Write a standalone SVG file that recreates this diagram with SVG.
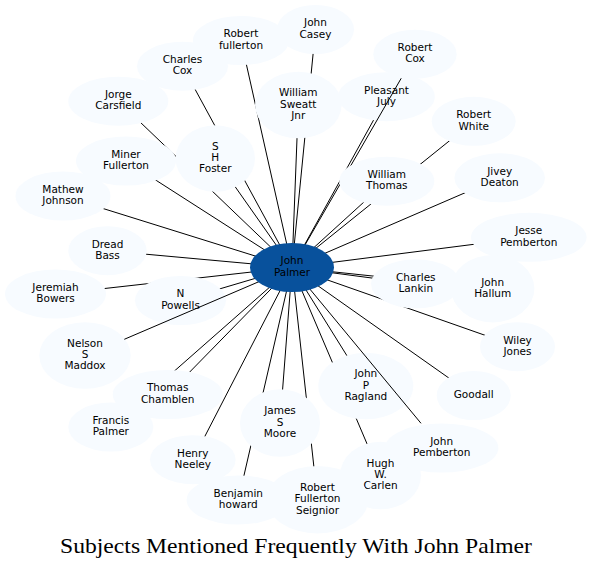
<svg xmlns="http://www.w3.org/2000/svg" width="592" height="569" viewBox="0 0 592 569">
<style>
.node ellipse{fill:#f7fbff;stroke:none}
.center ellipse{fill:#08519c;stroke:none}
.node text,.center text{font-family:"DejaVu Sans",sans-serif;font-size:10.5px;fill:#000;text-anchor:middle}
.edges line{stroke:#000;stroke-width:1}
.title{font-family:"Liberation Serif",serif;font-size:22px;fill:#000;text-anchor:middle}
</style>
<rect width="592" height="569" fill="#fff"/>
<g id="edges" class="edges">
<line x1="292" y1="267.5" x2="315.5" y2="29.5"/>
<line x1="292" y1="267.5" x2="241" y2="40.5"/>
<line x1="292" y1="267.5" x2="182.5" y2="66.2"/>
<line x1="292" y1="267.5" x2="118.3" y2="101.2"/>
<line x1="292" y1="267.5" x2="298.3" y2="105"/>
<line x1="292" y1="267.5" x2="386.5" y2="96.7"/>
<line x1="292" y1="267.5" x2="473.7" y2="121.3"/>
<line x1="292" y1="267.5" x2="126" y2="161"/>
<line x1="292" y1="267.5" x2="215.3" y2="158.5"/>
<line x1="292" y1="267.5" x2="386.8" y2="181.2"/>
<line x1="292" y1="267.5" x2="499.7" y2="177.8"/>
<line x1="292" y1="267.5" x2="63" y2="196"/>
<line x1="292" y1="267.5" x2="528.8" y2="237.3"/>
<line x1="292" y1="267.5" x2="107.5" y2="250.7"/>
<line x1="292" y1="267.5" x2="55.5" y2="294"/>
<line x1="292" y1="267.5" x2="180.5" y2="300.5"/>
<line x1="292" y1="267.5" x2="415.8" y2="283.8"/>
<line x1="292" y1="267.5" x2="492.7" y2="288.7"/>
<line x1="292" y1="267.5" x2="517.5" y2="346.7"/>
<line x1="292" y1="267.5" x2="167.7" y2="394.5"/>
<line x1="292" y1="267.5" x2="110.8" y2="427"/>
<line x1="292" y1="267.5" x2="280" y2="423"/>
<line x1="292" y1="267.5" x2="365.8" y2="386"/>
<line x1="292" y1="267.5" x2="473.7" y2="395.5"/>
<line x1="292" y1="267.5" x2="192.8" y2="459.7"/>
<line x1="292" y1="267.5" x2="238.3" y2="500"/>
<line x1="292" y1="267.5" x2="380.5" y2="475.5"/>
<line x1="292" y1="267.5" x2="317.5" y2="499.7"/>
</g>
<g id="nodes-back">
<g id="john_casey" class="node"><ellipse cx="315.5" cy="29.5" rx="38.5" ry="24.5"/><text x="315.5" y="26.4">John</text><text x="315.5" y="37.7">Casey</text></g>
<g id="robert_fullerton" class="node"><ellipse cx="241" cy="40.5" rx="48" ry="24.5"/><text x="241" y="37.4">Robert</text><text x="241" y="48.7">fullerton</text></g>
<g id="charles_cox" class="node"><ellipse cx="182.5" cy="66.2" rx="45.5" ry="24.5"/><text x="182.5" y="63">Charles</text><text x="182.5" y="74.4">Cox</text></g>
<g id="jorge_carsfield" class="node"><ellipse cx="118.3" cy="101.2" rx="50" ry="24.5"/><text x="118.3" y="98">Jorge</text><text x="118.3" y="109.3">Carsfield</text></g>
<g id="robert_cox" class="node"><ellipse cx="415" cy="54.2" rx="41.7" ry="24.5"/><text x="415" y="51">Robert</text><text x="415" y="62.4">Cox</text></g>
<g id="pleasant_july" class="node"><ellipse cx="386.5" cy="96.7" rx="48.3" ry="24.5"/><text x="386.5" y="93.5">Pleasant</text><text x="386.5" y="104.8">July</text></g>
<g id="william_sweatt_jnr" class="node"><ellipse cx="298.3" cy="105" rx="43.3" ry="33.3"/><text x="298.3" y="96.2">William</text><text x="298.3" y="107.5">Sweatt</text><text x="298.3" y="118.8">Jnr</text></g>
<g id="robert_white" class="node"><ellipse cx="473.7" cy="121.3" rx="42" ry="24.5"/><text x="473.7" y="118.1">Robert</text><text x="473.7" y="129.5">White</text></g>
<g id="miner_fullerton" class="node"><ellipse cx="126" cy="161" rx="50" ry="24.5"/><text x="126" y="157.9">Miner</text><text x="126" y="169.2">Fullerton</text></g>
<g id="s_h_foster" class="node"><ellipse cx="215.3" cy="158.5" rx="39.7" ry="33.2"/><text x="215.3" y="149.7">S</text><text x="215.3" y="161">H</text><text x="215.3" y="172.3">Foster</text></g>
<g id="jivey_deaton" class="node"><ellipse cx="499.7" cy="177.8" rx="45.3" ry="24.5"/><text x="499.7" y="174.6">Jivey</text><text x="499.7" y="186">Deaton</text></g>
<g id="mathew_johnson" class="node"><ellipse cx="63" cy="196" rx="47.5" ry="24.5"/><text x="63" y="192.9">Mathew</text><text x="63" y="204.2">Johnson</text></g>
<g id="jesse_pemberton" class="node"><ellipse cx="528.8" cy="237.3" rx="57.8" ry="24.5"/><text x="528.8" y="234.2">Jesse</text><text x="528.8" y="245.5">Pemberton</text></g>
<g id="dread_bass" class="node"><ellipse cx="107.5" cy="250.7" rx="39.2" ry="24.5"/><text x="107.5" y="247.6">Dread</text><text x="107.5" y="258.9">Bass</text></g>
<g id="jeremiah_bowers" class="node"><ellipse cx="55.5" cy="294" rx="50.5" ry="24.5"/><text x="55.5" y="290.9">Jeremiah</text><text x="55.5" y="302.2">Bowers</text></g>
<g id="n_powells" class="node"><ellipse cx="180.5" cy="300.5" rx="45.5" ry="24.5"/><text x="180.5" y="297.4">N</text><text x="180.5" y="308.7">Powells</text></g>
<g id="charles_lankin" class="node"><ellipse cx="415.8" cy="283.8" rx="44.8" ry="24.5"/><text x="415.8" y="280.7">Charles</text><text x="415.8" y="292">Lankin</text></g>
<g id="john_hallum" class="node"><ellipse cx="492.7" cy="288.7" rx="41.7" ry="33.7"/><text x="492.7" y="285.6">John</text><text x="492.7" y="296.9">Hallum</text></g>
<g id="wiley_jones" class="node"><ellipse cx="517.5" cy="346.7" rx="37.5" ry="24.5"/><text x="517.5" y="343.6">Wiley</text><text x="517.5" y="354.9">Jones</text></g>
<g id="nelson_s_maddox" class="node"><ellipse cx="85" cy="355.5" rx="45.7" ry="33.2"/><text x="85" y="346.7">Nelson</text><text x="85" y="358">S</text><text x="85" y="369.3">Maddox</text></g>
<g id="thomas_chamblen" class="node"><ellipse cx="167.7" cy="394.5" rx="55" ry="24.5"/><text x="167.7" y="391.4">Thomas</text><text x="167.7" y="402.7">Chamblen</text></g>
<g id="francis_palmer" class="node"><ellipse cx="110.8" cy="427" rx="42.5" ry="24.5"/><text x="110.8" y="423.9">Francis</text><text x="110.8" y="435.2">Palmer</text></g>
<g id="james_s_moore" class="node"><ellipse cx="280" cy="423" rx="40" ry="33.7"/><text x="280" y="414.2">James</text><text x="280" y="425.5">S</text><text x="280" y="436.8">Moore</text></g>
<g id="john_p_ragland" class="node"><ellipse cx="365.8" cy="386" rx="47.5" ry="33.3"/><text x="365.8" y="377.2">John</text><text x="365.8" y="388.5">P</text><text x="365.8" y="399.8">Ragland</text></g>
<g id="goodall" class="node"><ellipse cx="473.7" cy="395.5" rx="37" ry="24.5"/><text x="473.7" y="398">Goodall</text></g>
<g id="henry_neeley" class="node"><ellipse cx="192.8" cy="459.7" rx="42.8" ry="24.5"/><text x="192.8" y="456.6">Henry</text><text x="192.8" y="467.9">Neeley</text></g>
<g id="benjamin_howard" class="node"><ellipse cx="238.3" cy="500" rx="51.7" ry="24.5"/><text x="238.3" y="496.9">Benjamin</text><text x="238.3" y="508.2">howard</text></g>
<g id="hugh_w_carlen" class="node"><ellipse cx="380.5" cy="475.5" rx="40.5" ry="33.8"/><text x="380.5" y="466.7">Hugh</text><text x="380.5" y="478">W.</text><text x="380.5" y="489.3">Carlen</text></g>
</g>
<g id="edges-over" class="edges">
<line x1="292" y1="267.5" x2="401.2" y2="78.3"/>
<line x1="292" y1="267.5" x2="124.3" y2="339.3"/>
<line x1="292" y1="267.5" x2="421" y2="423.3"/>
</g>
<g id="nodes-front">
<g id="william_thomas" class="node"><ellipse cx="386.8" cy="181.2" rx="47.5" ry="24.5"/><text x="386.8" y="178">William</text><text x="386.8" y="189.4">Thomas</text></g>
<g id="robert_fullerton_seignior" class="node"><ellipse cx="317.5" cy="499.7" rx="50.8" ry="33.7"/><text x="317.5" y="490.9">Robert</text><text x="317.5" y="502.2">Fullerton</text><text x="317.5" y="513.5">Seignior</text></g>
<g id="john_pemberton" class="node"><ellipse cx="441.7" cy="448" rx="56.7" ry="24.5"/><text x="441.7" y="444.9">John</text><text x="441.7" y="456.2">Pemberton</text></g>
<g id="john_palmer" class="center"><ellipse cx="292" cy="267.5" rx="42" ry="24.5"/><text x="292" y="264.4">John</text><text x="292" y="275.7">Palmer</text></g>
</g>
<text class="title" x="296" y="553" textLength="472" lengthAdjust="spacingAndGlyphs">Subjects Mentioned Frequently With John Palmer</text>
</svg>
